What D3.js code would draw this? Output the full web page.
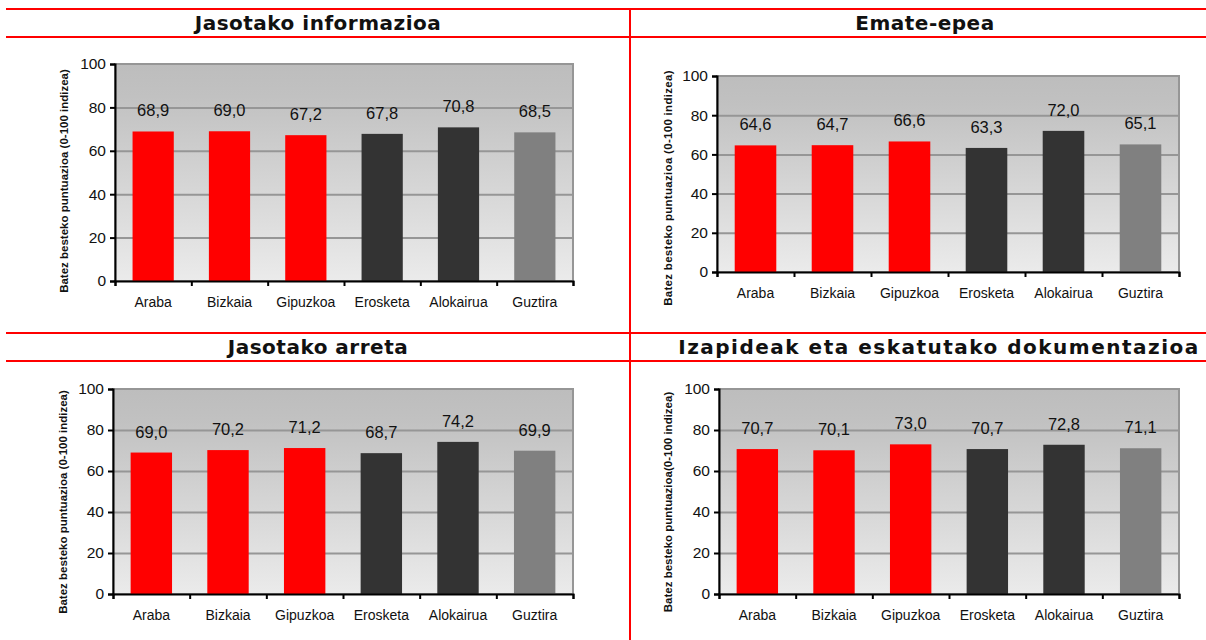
<!DOCTYPE html>
<html>
<head>
<meta charset="utf-8">
<script src="https://cdn.jsdelivr.net/npm/d3@7"></script>
<style>
  html, body { margin: 0; padding: 0; background: #fff; }
  svg { display: block; }
</style>
</head>
<body>
<svg id="chart" width="1206" height="640"></svg>
<script>
// Categories shared by every panel
const categories = ["Araba", "Bizkaia", "Gipuzkoa", "Erosketa", "Alokairua", "Guztira"];
const barColors = ["#ff0000", "#ff0000", "#ff0000", "#333333", "#333333", "#808080"];
const yTicks = [0, 20, 40, 60, 80, 100];

// Panel titles
const panelTitles = [
  "Jasotako informazioa",
  "Emate-epea",
  "Jasotako arreta",
  "Izapideak eta eskatutako dokumentazioa"
];

// Axis titles
const axisTitles = [
  "Batez besteko puntuazioa (0-100 indizea)",
  "Batez besteko puntuazioa (0-100 indizea)",
  "Batez besteko puntuazioa (0-100 indizea)",
  "Batez besteko puntuazioa(0-100 indizea)"
];

// Mean scores (0-100 index) per panel
const infoValues   = [68.9, 69.0, 67.2, 67.8, 70.8, 68.5];
const emateValues  = [64.6, 64.7, 66.6, 63.3, 72.0, 65.1];
const arretaValues = [69.0, 70.2, 71.2, 68.7, 74.2, 69.9];
const izapiValues  = [70.7, 70.1, 73.0, 70.7, 72.8, 71.1];

const panelValues = [infoValues, emateValues, arretaValues, izapiValues];

// Layout of each panel: plot rectangle, title centre, axis-title position
const layout = [
  { x0: 115, x1: 573, yTop: 64,  yBot: 281, titleX: 318, titleY: 23,  titleSpacing: 0.5, atX: 64,  atY: 181, atSpacing: 0 },
  { x0: 717, x1: 1179, yTop: 76, yBot: 272, titleX: 925, titleY: 23,  titleSpacing: 0.5, atX: 668, atY: 188, atSpacing: 0.3 },
  { x0: 113, x1: 573, yTop: 389, yBot: 594, titleX: 318, titleY: 347, titleSpacing: 0.5, atX: 63,  atY: 502, atSpacing: 0 },
  { x0: 719, x1: 1179, yTop: 389, yBot: 594, titleX: 939, titleY: 347, titleSpacing: 1.5, atX: 668, atY: 502, atSpacing: 0 }
];

const fmt = d3.formatLocale({ decimal: ",", thousands: ".", grouping: [3], currency: ["", "€"] }).format(".1f");

const svg = d3.select("#chart");

// Plot background gradient
const defs = svg.append("defs");
const grad = defs.append("linearGradient")
  .attr("id", "plotBg").attr("x1", 0).attr("y1", 0).attr("x2", 0).attr("y2", 1);
grad.append("stop").attr("offset", "0%").attr("stop-color", "#bdbdbd");
grad.append("stop").attr("offset", "15%").attr("stop-color", "#c1c1c1");
grad.append("stop").attr("offset", "100%").attr("stop-color", "#ebebeb");

// Red frame lines of the table
const frame = svg.append("g").attr("stroke", "#ff0000").attr("stroke-width", 2).attr("fill", "none");
[9, 37, 333, 361].forEach(yy => {
  frame.append("line").attr("x1", 6).attr("x2", 1206).attr("y1", yy).attr("y2", yy);
});
frame.append("line").attr("x1", 630).attr("x2", 630).attr("y1", 9).attr("y2", 640);

panelValues.forEach((values, i) => {
  const L = layout[i];
  const g = svg.append("g");

  // Title
  g.append("text")
    .attr("x", L.titleX).attr("y", L.titleY)
    .attr("text-anchor", "middle").attr("dominant-baseline", "central")
    .attr("font-family", "DejaVu Sans").attr("font-weight", "bold")
    .attr("font-size", 20).attr("letter-spacing", L.titleSpacing)
    .attr("fill", "#111")
    .text(panelTitles[i]);

  const x = d3.scaleBand().domain(categories).range([L.x0, L.x1])
    .paddingInner(0.46).paddingOuter(0.23);
  const xEdge = d3.scaleLinear().domain([0, categories.length]).range([L.x0, L.x1]);
  const y = d3.scaleLinear().domain([0, 100]).range([L.yBot, L.yTop]);

  // Plot area
  g.append("rect")
    .attr("x", L.x0).attr("y", L.yTop)
    .attr("width", L.x1 - L.x0).attr("height", L.yBot - L.yTop)
    .attr("fill", "url(#plotBg)")
    .attr("stroke", "#969696").attr("stroke-width", 2);

  // Gridlines
  g.append("g")
    .attr("transform", `translate(${L.x0},0)`)
    .call(d3.axisLeft(y).tickValues(yTicks.filter(t => t > 0 && t < 100))
      .tickSize(-(L.x1 - L.x0)).tickFormat(""))
    .call(a => a.select(".domain").remove())
    .call(a => a.selectAll("line").attr("stroke", "#969696").attr("stroke-width", 2));

  // Bars
  g.append("g").selectAll("rect").data(values).join("rect")
    .attr("x", (d, j) => x(categories[j]))
    .attr("y", d => y(d))
    .attr("width", x.bandwidth())
    .attr("height", d => y(0) - y(d))
    .attr("fill", (d, j) => barColors[j]);

  // Value labels
  g.append("g").selectAll("text").data(values).join("text")
    .attr("x", (d, j) => x(categories[j]) + x.bandwidth() / 2)
    .attr("y", d => y(d) - 15)
    .attr("text-anchor", "middle")
    .attr("font-family", "Liberation Sans, Arial").attr("font-size", 16.5)
    .attr("fill", "#111")
    .text(d => fmt(d));

  // Y axis
  g.append("g")
    .attr("transform", `translate(${L.x0},0)`)
    .call(d3.axisLeft(y).tickValues(yTicks).tickSize(5).tickPadding(4))
    .call(a => a.select(".domain").attr("stroke", "#000").attr("stroke-width", 2))
    .call(a => a.selectAll(".tick line").attr("stroke", "#000").attr("stroke-width", 2))
    .call(a => a.selectAll(".tick text")
      .attr("font-family", "Liberation Sans, Arial").attr("font-size", 15.5).attr("fill", "#111"));

  // X axis: ticks at category boundaries
  g.append("g")
    .attr("transform", `translate(0,${L.yBot})`)
    .call(d3.axisBottom(xEdge).tickValues(d3.range(categories.length + 1)).tickSize(5).tickFormat(""))
    .call(a => a.select(".domain").attr("stroke", "#000").attr("stroke-width", 2))
    .call(a => a.selectAll(".tick line").attr("stroke", "#000").attr("stroke-width", 2));

  // Category labels
  g.append("g")
    .attr("transform", `translate(0,${L.yBot})`)
    .call(d3.axisBottom(x).tickSize(0).tickPadding(16))
    .call(a => a.select(".domain").remove())
    .call(a => a.selectAll(".tick text")
      .attr("font-family", "Liberation Sans, Arial").attr("font-size", 14).attr("fill", "#111"));

  // Axis title
  g.append("text")
    .attr("transform", `translate(${L.atX},${L.atY}) rotate(-90)`)
    .attr("text-anchor", "middle").attr("dominant-baseline", "central")
    .attr("font-family", "Liberation Sans, Arial").attr("font-weight", "bold")
    .attr("font-size", 11.5).attr("letter-spacing", L.atSpacing).attr("fill", "#111")
    .text(axisTitles[i]);
});
</script>
</body>
</html>
